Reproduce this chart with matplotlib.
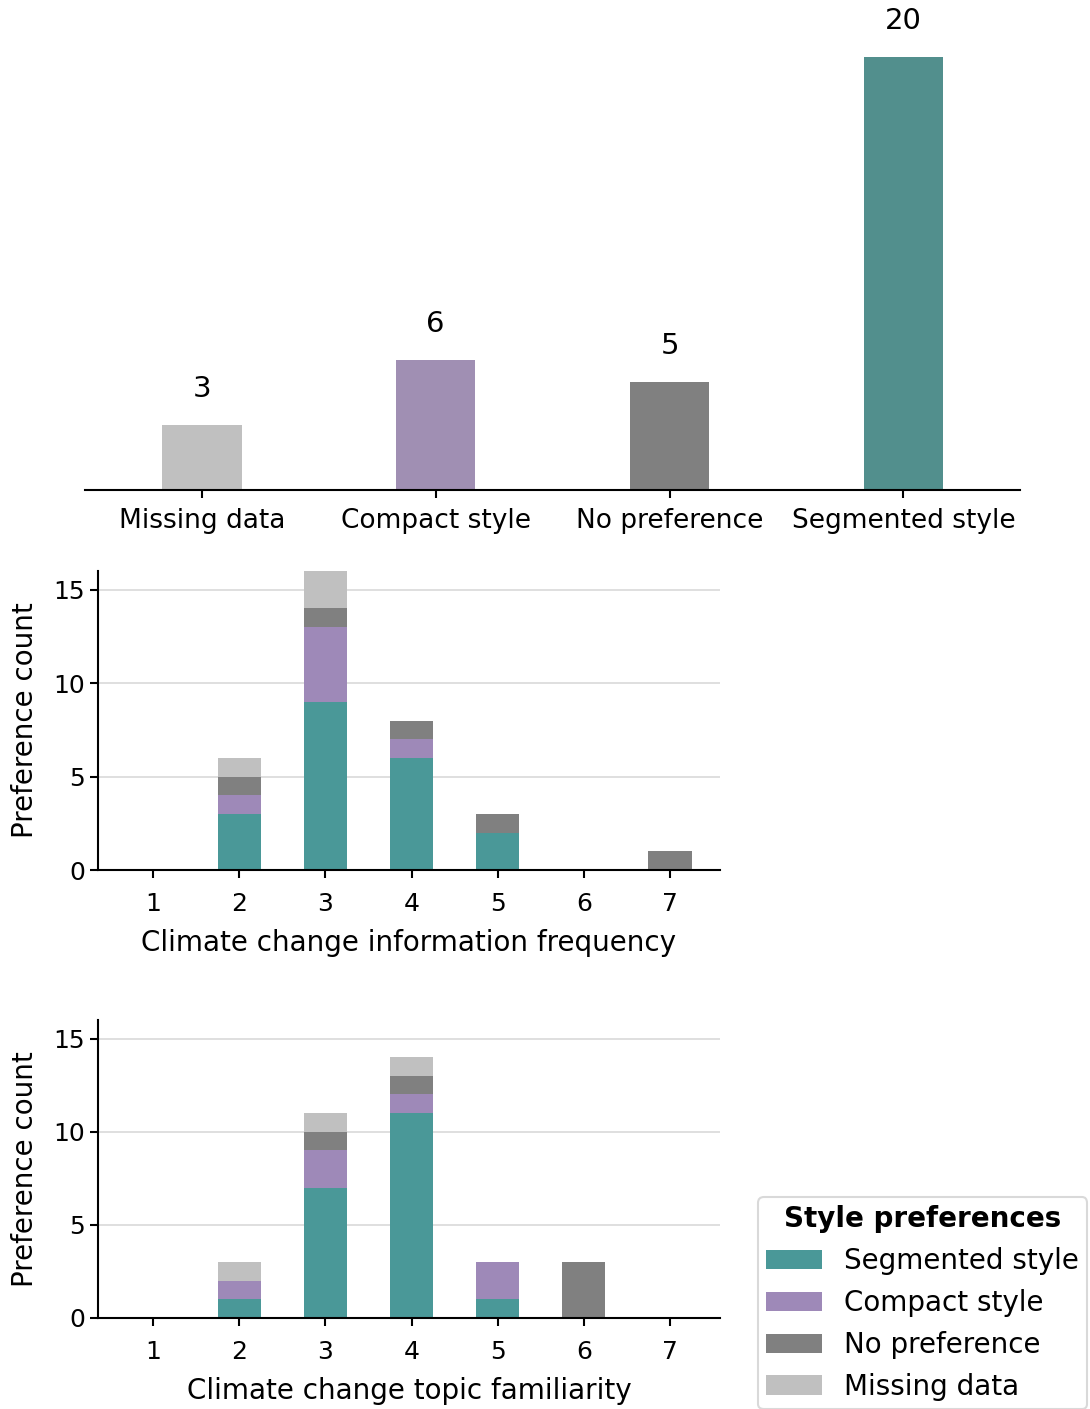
import matplotlib
matplotlib.use("Agg")
import matplotlib.pyplot as plt
import numpy as np

# Overall preference counts
overall_labels = ["Missing data", "Compact style", "No preference", "Segmented style"]
overall_counts = [3, 6, 5, 20]
overall_colors = ["#c0c0c0", "#a08fb3", "#808080", "#528f8d"]

# Stacked counts by scale value
scale = [1, 2, 3, 4, 5, 6, 7]
series_names = ["Segmented style", "Compact style", "No preference", "Missing data"]
stack_colors = ["#4a9898", "#9e89b8", "#808080", "#c0c0c0"]

freq_segmented = [0, 3, 9, 6, 2, 0, 0]
freq_compact = [0, 1, 4, 1, 0, 0, 0]
freq_nopref = [0, 1, 1, 1, 1, 0, 1]
freq_missing = [0, 1, 2, 0, 0, 0, 0]

fam_segmented = [0, 1, 7, 11, 1, 0, 0]
fam_compact = [0, 1, 2, 1, 2, 0, 0]
fam_nopref = [0, 0, 1, 1, 0, 3, 0]
fam_missing = [0, 1, 1, 1, 0, 0, 0]

LABEL_FS = 20
TICK_FS = 18
NUM_FS = 21

fig = plt.figure(figsize=(10.9, 14.09), dpi=100)

# Top: overall bars
ax0 = fig.add_axes([0.078, 0.652, 0.858, 0.3073])
x0 = np.arange(len(overall_labels))
bars = ax0.bar(x0, overall_counts, width=0.34, color=overall_colors)
for b, v in zip(bars, overall_counts):
    ax0.annotate(str(v), (b.get_x() + b.get_width() / 2, v), xytext=(0, 16),
                 textcoords="offset points", ha="center", va="bottom",
                 fontsize=NUM_FS, annotation_clip=False)
ax0.set_xlim(-0.5, 3.5)
ax0.set_ylim(0, 20)
ax0.set_xticks(x0)
ax0.set_xticklabels(overall_labels, fontsize=19)
ax0.set_yticks([])
for s in ["left", "top", "right"]:
    ax0.spines[s].set_visible(False)
ax0.spines["bottom"].set_linewidth(1.5)
ax0.tick_params(axis="x", length=6, width=1.5, pad=7)


def stacked(ax, series, xlabel):
    bottom = np.zeros(len(scale))
    handles = []
    for vals, name, col in zip(series, series_names, stack_colors):
        h = ax.bar(scale, vals, width=0.5, bottom=bottom, color=col, label=name, zorder=2)
        handles.append(h)
        bottom = bottom + np.array(vals)
    ax.set_xlim(0.36, 7.58)
    ax.set_ylim(0, 16)
    ax.set_xticks(scale)
    ax.set_yticks([0, 5, 10, 15])
    ax.tick_params(labelsize=TICK_FS, length=6, width=1.5)
    ax.tick_params(axis="x", pad=10)
    ax.set_xlabel(xlabel, fontsize=LABEL_FS, labelpad=9)
    ax.set_ylabel("Preference count", fontsize=LABEL_FS, labelpad=10)
    ax.yaxis.grid(True, color="#d9d9d9", linewidth=1.2, zorder=0)
    ax.set_axisbelow(True)
    for s in ["top", "right"]:
        ax.spines[s].set_visible(False)
    for s in ["left", "bottom"]:
        ax.spines[s].set_linewidth(1.5)
    return handles


ax1 = fig.add_axes([0.0899, 0.3825, 0.5706, 0.2122])
stacked(ax1, [freq_segmented, freq_compact, freq_nopref, freq_missing],
        "Climate change information frequency")

ax2 = fig.add_axes([0.0899, 0.0646, 0.5706, 0.2115])
handles = stacked(ax2, [fam_segmented, fam_compact, fam_nopref, fam_missing],
                  "Climate change topic familiarity")

leg = fig.legend(handles, series_names, loc="upper left",
                 bbox_to_anchor=(0.6955, 0.1505), borderaxespad=0,
                 fontsize=LABEL_FS, title="Style preferences",
                 title_fontproperties={"weight": "bold", "size": LABEL_FS},
                 frameon=True, fancybox=True, edgecolor="#d0d0d0",
                 borderpad=0.3, labelspacing=0.5, handlelength=2.0)
leg.get_frame().set_linewidth(1.5)

fig.savefig("out.png", dpi=100)
